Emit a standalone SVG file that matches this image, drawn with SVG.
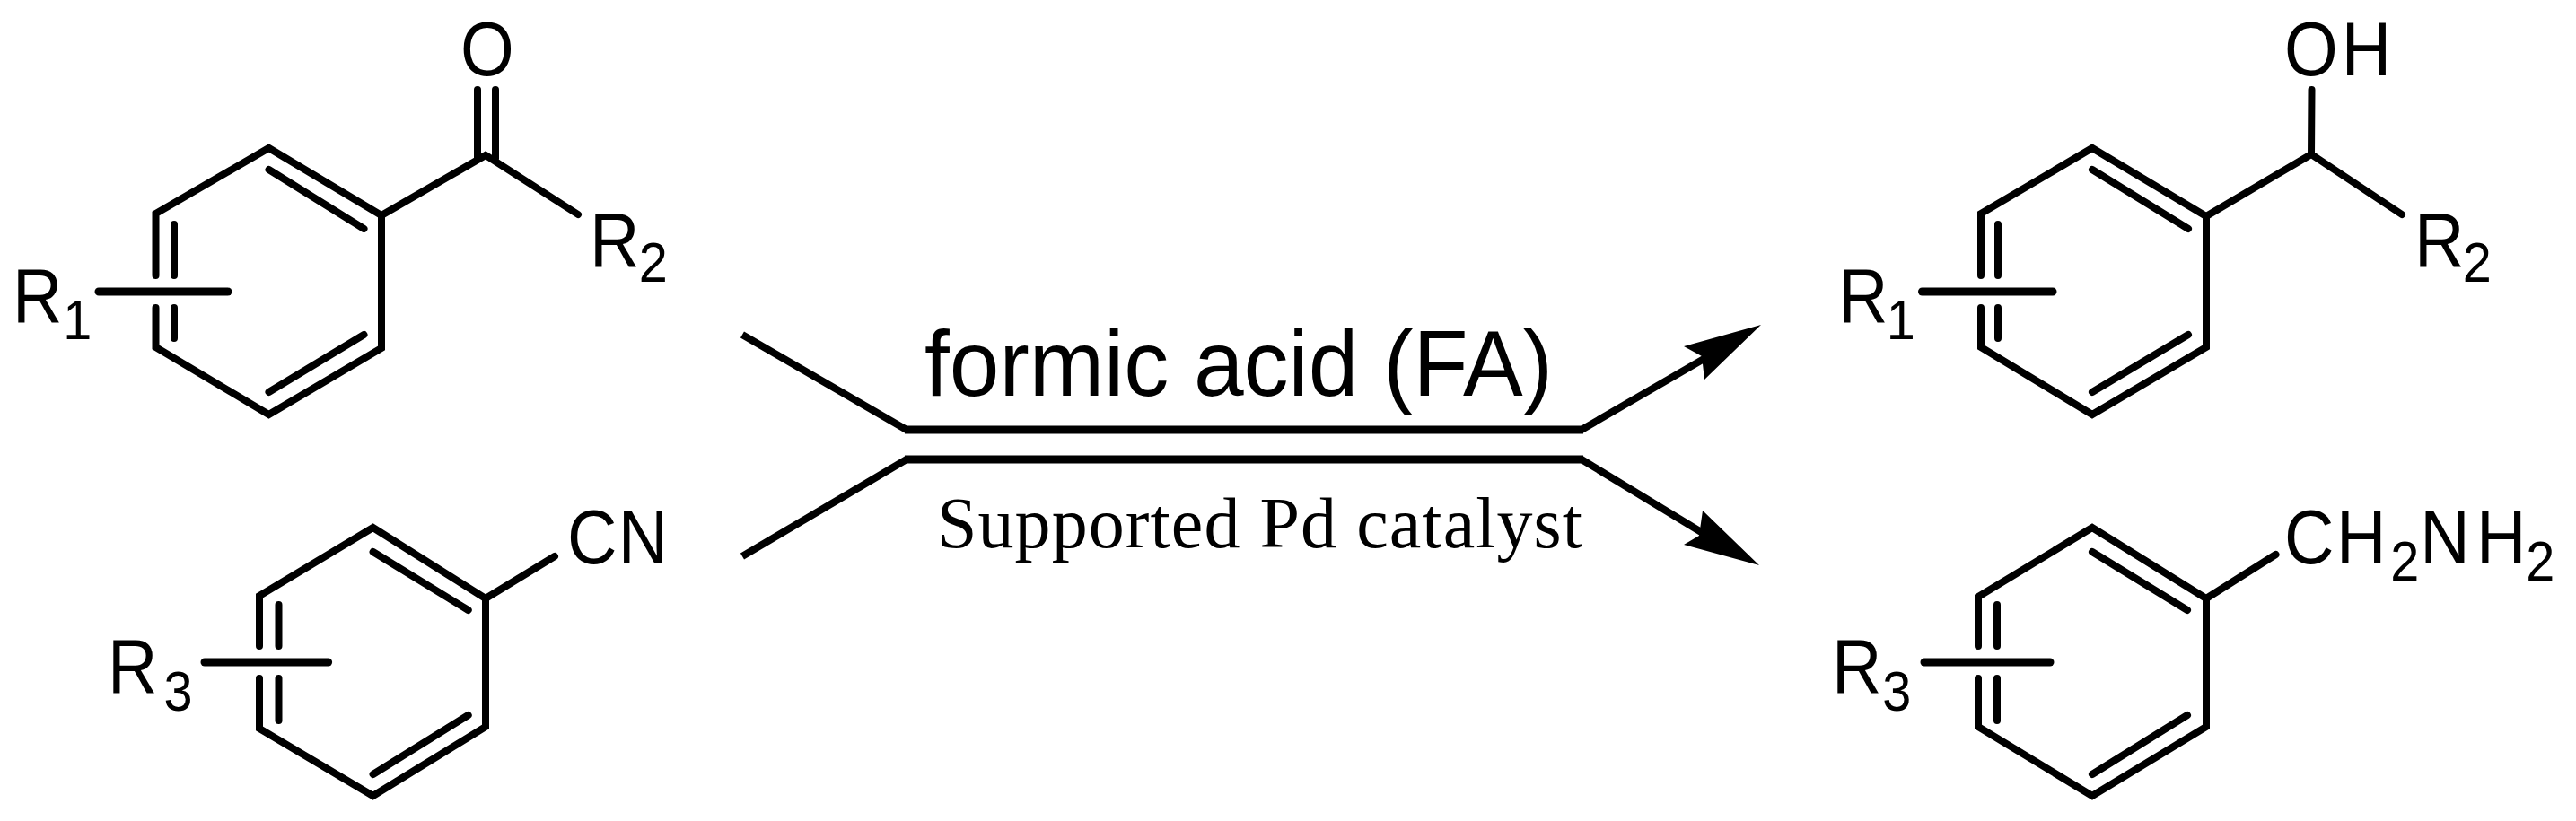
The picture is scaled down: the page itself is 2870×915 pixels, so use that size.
<svg xmlns="http://www.w3.org/2000/svg" width="2870" height="915" viewBox="0 0 2870 915">
<style>
.b{fill:none;stroke:#000;stroke-width:8;stroke-linejoin:miter;stroke-linecap:round}
.s{fill:none;stroke:#000;stroke-width:9;stroke-linecap:round}
.r{fill:none;stroke:#000;stroke-linejoin:miter}
.a{fill:#000;stroke:none}
text{font-family:"Liberation Sans",Arial,sans-serif;font-size:80px;fill:#000}
.sub{font-size:60px}
</style>
<rect width="2870" height="915" fill="#fff"/>
<g id="ketone">
<path class="b" d="M173.5 307V238L299.5 165L425 240V388L299.5 462L173.5 387V343M194 250V307M194 343V377M299.5 189L405.5 255M405.5 373L299.5 437M425 240L541 173L644 239M532 100V177M552 100V177"/>
<path class="s" d="M110 325H254"/>
<text transform="translate(14 359) scale(.96 1.06)">R<tspan class="sub" x="58.7" y="17.5">1</tspan></text>
<text transform="translate(657 297) scale(.96 1.06)">R<tspan class="sub" x="57" y="16.5">2</tspan></text>
<text transform="translate(513 84) scale(.96 1.06)">O</text>
</g>
<g id="nitrile">
<path class="b" d="M289 720V664L415.6 588L541 667V810L415.6 887L289 812V756M310.5 674V720M310.5 756V803M415.6 615L521.7 680M521.7 797L415.6 863M541 667L618 620"/>
<path class="s" d="M228 738H365.6"/>
<text transform="translate(120 772) scale(.96 1.06)">R<tspan class="sub" x="65" y="18.5">3</tspan></text>
<text transform="translate(632 628) scale(.96 1.06)">C<tspan x="59">N</tspan></text>
</g>
<g id="alcohol">
<path class="b" d="M2207 307V238L2331 165L2458 241V387L2331 462L2207 387V343M2226 250V307M2226 343V377M2331 189L2438 255M2438 373L2331 437M2458 241L2575 172L2676 239M2575.5 100L2575 172"/>
<path class="s" d="M2141.5 325H2287"/>
<text transform="translate(2048 359) scale(.96 1.06)">R<tspan class="sub" x="56" y="17.5">1</tspan></text>
<text transform="translate(2690 297) scale(.96 1.06)">R<tspan class="sub" x="56" y="16.5">2</tspan></text>
<text transform="translate(2545 84) scale(.96 1.06)">O<tspan x="66.5">H</tspan></text>
</g>
<g id="amine">
<path class="b" d="M2204 720V665L2331 588L2458 667V810L2331 887L2204 810V756M2225 674V720M2225 756V803M2331 615L2437 680M2437 797L2331 863M2458 667L2535.5 618"/>
<path class="s" d="M2144 738H2284"/>
<text transform="translate(2041 772) scale(.96 1.06)">R<tspan class="sub" x="58.7" y="18.5">3</tspan></text>
<text transform="translate(2545 628) scale(.96 1.06)">C<tspan x="60.3">H</tspan><tspan class="sub" x="123.3" y="17.5">2</tspan><tspan x="157.5" y="0">N</tspan><tspan x="222.8">H</tspan><tspan class="sub" x="280.5" y="17.5">2</tspan></text>
</g>
<g id="connectors">
<path class="r" stroke-width="8" d="M827 373L1010 479"/>
<path class="r" stroke-width="9" d="M1008 479H1764"/>
<path class="r" stroke-width="8" d="M1762 479L1900 399"/>
<polygon class="a" points="1962,362 1899,423 1896,397 1876,386"/>
<path class="r" stroke-width="8" d="M827 620L1010 512"/>
<path class="r" stroke-width="9" d="M1008 512H1764"/>
<path class="r" stroke-width="8" d="M1762 512L1897 594"/>
<polygon class="a" points="1960,630 1876,607 1893,597 1897,569"/>
</g>
<g id="labels">
<text transform="translate(1030 441) scale(1 1.03)" style="font-size:100px">formic acid (FA)</text>
<text x="1044" y="610" style="font-family:'Liberation Serif','Times New Roman',serif;font-size:80px" textLength="719">Supported Pd catalyst</text>
</g>
</svg>
